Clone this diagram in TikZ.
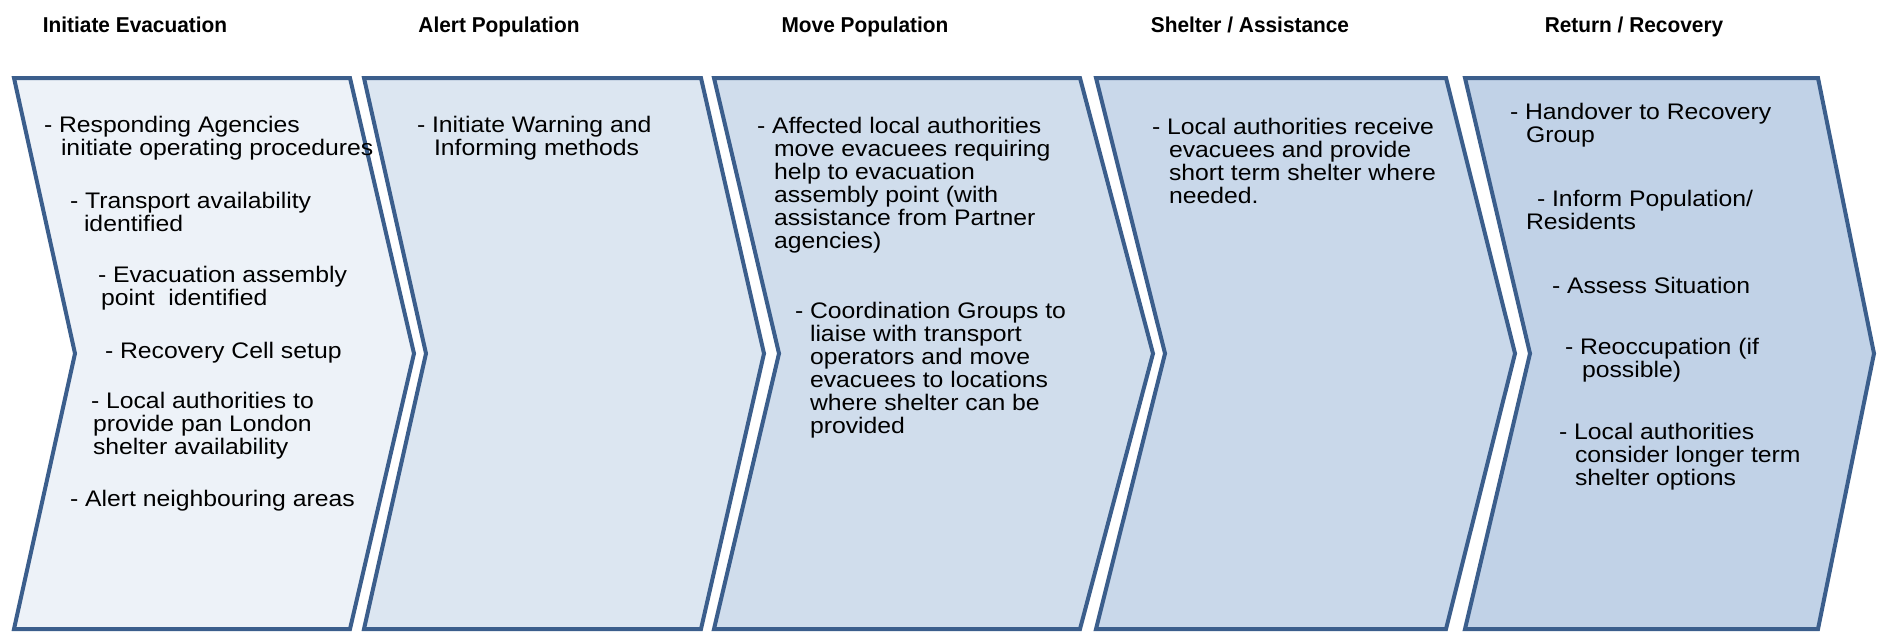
\documentclass[tikz,border=0pt]{standalone}
\usepackage{fontspec}
\setmainfont{Liberation Sans}[FakeStretch=1.1]
\newfontfamily\headfont{Liberation Sans}[FakeStretch=0.97]
\usepackage{tikz}

\definecolor{edgeblue}{HTML}{3B5E8C}
\definecolor{stageA}{HTML}{EDF2F8}
\definecolor{stageB}{HTML}{DCE6F1}
\definecolor{stageC}{HTML}{D0DDEC}
\definecolor{stageD}{HTML}{C9D8EA}
\definecolor{stageE}{HTML}{C1D2E7}

\newcommand{\indt}[1]{\hspace*{#1pt}}

\begin{document}
\begin{tikzpicture}[x = 1pt, y = 1pt, line width = 4pt,
                    chev/.style = {draw = edgeblue, line join = miter},
                    head/.style = {font = \headfont\fontsize{21.5}{23}\selectfont\bfseries, anchor = base, inner sep = 0pt},
                    item/.style = {font = \fontsize{22.5}{23}\selectfont, align = left, anchor = north west,
                                   inner sep = 0pt, execute at begin node = \strut}]
      \useasboundingbox (0, 0) rectangle (1877, -632);

      % stages
      \draw [chev, fill = stageA] (14, -78) -- (350, -78) -- (414, -353.5) -- (350, -629) -- (14, -629) -- (75, -353.5) -- cycle;
      \draw [chev, fill = stageB] (364, -78) -- (701, -78) -- (764, -353.5) -- (701, -629) -- (364, -629) -- (426, -353.5) -- cycle;
      \draw [chev, fill = stageC] (714, -78) -- (1080, -78) -- (1153, -353.5) -- (1080, -629) -- (714, -629) -- (779, -353.5) -- cycle;
      \draw [chev, fill = stageD] (1096, -78) -- (1446, -78) -- (1515, -353.5) -- (1446, -629) -- (1096, -629) -- (1165, -353.5) -- cycle;
      \draw [chev, fill = stageE] (1465, -78) -- (1818, -78) -- (1874, -353.5) -- (1818, -629) -- (1465, -629) -- (1530, -353.5) -- cycle;

      % headings
      \node [head] (h1) at (135, -32) {Initiate Evacuation};
      \node [head] (h2) at (499, -32) {Alert Population};
      \node [head] (h3) at (865, -32) {Move Population};
      \node [head] (h4) at (1250, -32) {Shelter / Assistance};
      \node [head] (h5) at (1634, -32) {Return / Recovery};

      % initiate evacuation
      \node [item] (a1) at (42, -114) {- Responding Agencies\\\indt{17}initiate operating procedures};
      \node [item] (a2) at (68, -190) {- Transport availability\\\indt{14}identified};
      \node [item] (a3) at (96, -264) {- Evacuation assembly\\\indt{3}point \ identified};
      \node [item] (a4) at (103, -340) {- Recovery Cell setup};
      \node [item] (a5) at (89, -390) {- Local authorities to\\\indt{2}provide pan London\\\indt{2}shelter availability};
      \node [item] (a6) at (68, -488) {- Alert neighbouring areas};

      % alert population
      \node [item] (b1) at (415, -114) {- Initiate Warning and\\\indt{17}Informing methods};

      % move population
      \node [item] (c1) at (755, -115) {- Affected local authorities\\\indt{17}move evacuees requiring\\\indt{17}help to evacuation\\\indt{17}assembly point (with\\\indt{17}assistance from Partner\\\indt{17}agencies)};
      \node [item] (c2) at (793, -300) {- Coordination Groups to\\\indt{15}liaise with transport\\\indt{15}operators and move\\\indt{15}evacuees to locations\\\indt{15}where shelter can be\\\indt{15}provided};

      % shelter / assistance
      \node [item] (d1) at (1150, -116) {- Local authorities receive\\\indt{17}evacuees and provide\\\indt{17}short term shelter where\\\indt{17}needed.};

      % return / recovery
      \node [item] (e1) at (1508, -101) {- Handover to Recovery\\\indt{16}Group};
      \node [item] (e2) at (1524, -188) {\indt{11}- Inform Population/\\Residents};
      \node [item] (e3) at (1550, -275) {- Assess Situation};
      \node [item] (e4) at (1563, -336) {- Reoccupation (if\\\indt{17}possible)};
      \node [item] (e5) at (1557, -421) {- Local authorities\\\indt{16}consider longer term\\\indt{16}shelter options};
\end{tikzpicture}
\end{document}
